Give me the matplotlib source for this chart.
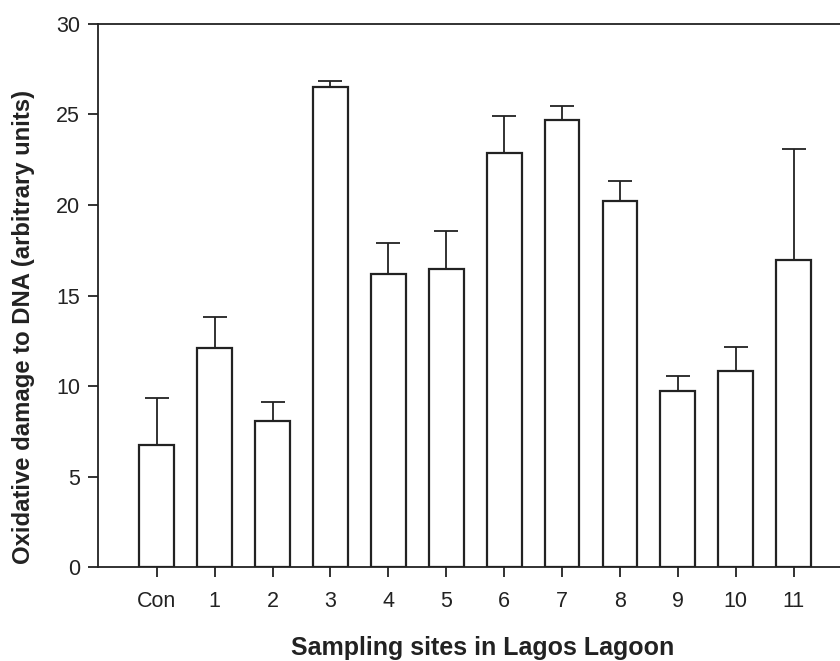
import matplotlib
matplotlib.use('Agg')
import matplotlib.pyplot as plt
import numpy as np

plt.rcParams['font.family'] = ['Liberation Sans', 'DejaVu Sans']

sites = ['Con', '1', '2', '3', '4', '5', '6', '7', '8', '9', '10', '11']
damage = [6.76, 12.1, 8.08, 26.54, 16.2, 16.45, 22.87, 24.71, 20.24, 9.74, 10.85, 16.98]
err_top = [9.34, 13.83, 9.12, 26.85, 17.9, 18.55, 24.92, 25.45, 21.33, 10.54, 12.15, 23.09]

err = np.array(err_top) - np.array(damage)
x = np.arange(len(sites))
ink = '#222222'
W, H = 840, 661

fig = plt.figure(figsize=(W / 100, H / 100), dpi=100)
ax = fig.add_axes([98 / W, 1 - 567 / H, 1 - 98 / W, (567 - 24) / H])

ax.bar(x, damage, width=0.6, color='white', edgecolor=ink, linewidth=1.6, zorder=2)
ax.errorbar(x, damage, yerr=[np.zeros_like(err), err], fmt='none',
            ecolor=ink, elinewidth=1.3, capsize=8.5, capthick=1.3, zorder=1)

ax.set_xlim(-1.014, 11.8)
ax.set_ylim(0, 30)
ax.set_yticks(np.arange(0, 31, 5))
ax.set_xticks(x)
ax.set_xticklabels(sites)

for side in ['left', 'bottom', 'top']:
    ax.spines[side].set_color(ink)
    ax.spines[side].set_linewidth(1.3)
ax.spines['right'].set_visible(False)

ax.tick_params(axis='both', direction='out', length=7, width=1.3, color=ink,
               labelsize=15.5, labelcolor=ink)
ax.tick_params(axis='x', pad=10)
ax.tick_params(axis='y', pad=6)

# axis titles sit off-centre in the original, so place them by pixel
fig.text(483 / W, 1 - 655 / H, 'Sampling sites in Lagos Lagoon', fontsize=18,
         fontweight='bold', color=ink, ha='center', va='baseline')
fig.text(23.5 / W, 1 - 327 / H, 'Oxidative damage to DNA (arbitrary units)',
         fontsize=17.2, fontweight='bold', color=ink, ha='center', va='center',
         rotation=90)

fig.savefig('out.png', dpi=100)
